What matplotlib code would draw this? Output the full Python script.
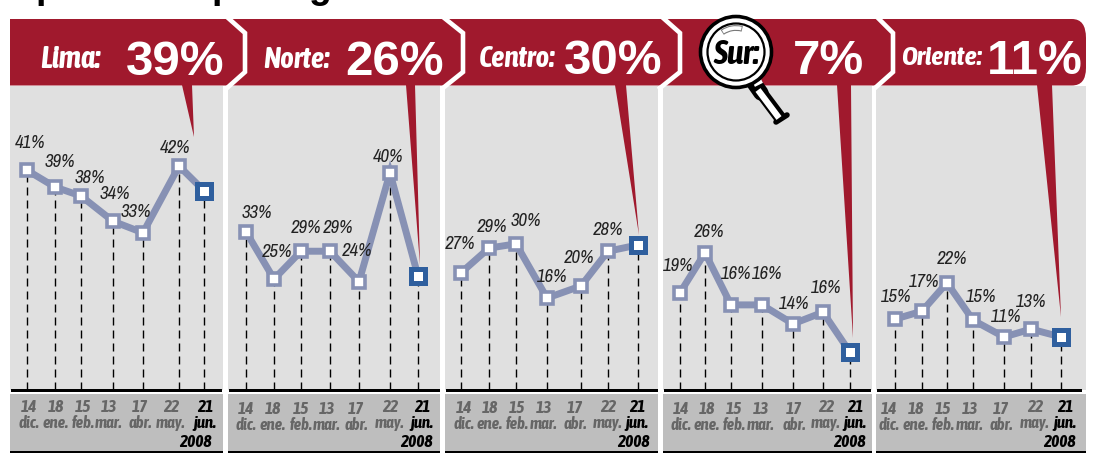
import matplotlib
matplotlib.use("Agg")
import matplotlib.pyplot as plt
from matplotlib.patches import Polygon, Rectangle, Circle, Arc, PathPatch
from matplotlib.path import Path

# ---- data ----
regions = ["Lima:", "Norte:", "Centro:", "Sur:", "Oriente:"]
current = [39, 26, 30, 7, 11]
days = ["14", "18", "15", "13", "17", "22", "21"]
months = ["dic.", "ene.", "feb.", "mar.", "abr.", "may.", "jun."]
year = "2008"

# printed percentages (last point is shown in the header only)
lima_printed = [41, 39, 38, 34, 33, 42]
norte_printed = [33, 25, 29, 29, 24, 40]
centro_printed = [27, 29, 30, 16, 20, 28]
sur_printed = [19, 26, 16, 16, 14, 16]
oriente_printed = [15, 17, 22, 15, 11, 13]

# drawn heights on a common percent axis
lima_levels = [41.4, 38.2, 36.5, 31.7, 29.5, 42.2, 37.5]
norte_levels = [29.7, 20.7, 26.0, 26.0, 20.2, 40.9, 21.3]
centro_levels = [21.9, 26.6, 27.4, 17.1, 19.4, 26.0, 27.2]
sur_levels = [18.1, 25.7, 15.8, 15.8, 12.2, 14.4, 6.8]
oriente_levels = [13.1, 14.6, 20.0, 12.9, 9.7, 11.2, 9.7]

printed = [lima_printed, norte_printed, centro_printed, sur_printed, oriente_printed]
levels = [lima_levels, norte_levels, centro_levels, sur_levels, oriente_levels]

# ---- layout (pixels) ----
W, H = 1103, 453
RED = "#A0192D"
BG = "#E0E0E0"
LOW = "#BEBEBE"
LINE = "#8791B4"
BLUE = "#2F5F9E"
LABEL_FONT = ["Archivo Narrow", "Liberation Sans"]
NARROW = ["Asap Condensed", "Liberation Sans"]
WIDE = ["Liberation Sans", "DejaVu Sans"]

panel_x = [(10, 222.5), (228, 440), (445, 657.5), (663, 871.5), (876, 1086)]
base_end = [222, 439.5, 657.5, 871, 1082]
point_x = [
    [27, 55, 81, 113, 143, 179, 204],
    [246, 274, 301, 330, 359, 390, 418],
    [461, 489, 516, 547, 581, 608, 638],
    [680, 705, 731, 762, 793, 823, 850],
    [895, 922, 947, 973, 1004, 1031, 1061],
]
label_xy = [
    [(30, 143), (60, 162), (90, 178), (115, 194), (136, 212), (175, 148)],
    [(257, 213), (277, 252), (306, 228), (338, 228), (357, 251), (388, 157)],
    [(460, 244), (492, 227), (526, 221), (552, 277), (579, 258), (608, 230)],
    [(678, 266), (709, 232), (736, 274), (767, 274), (794, 304), (826, 288)],
    [(896, 297), (924, 282), (952, 259), (981, 297), (1006, 317), (1031, 302)],
]
tick_x = [
    [29, 56, 83, 109, 140, 171, 205],
    [246, 273, 301, 327, 356, 390, 422],
    [464, 490, 517, 544, 575, 608, 637],
    [681, 707, 734, 761, 794, 826, 855],
    [889, 916, 943, 970, 1001, 1035, 1065],
]
tick_dy = [
    [0, 0, 0, 0, 0, 0, 0],
    [2, 2, 2, 2, 2, 0, 0],
    [1, 1, 1, 1, 1, 0, 0],
    [2, 2, 2, 2, 2, 0, 0],
    [2, 2, 2, 2, 2, 0, 0],
]
year_right = [212, 433, 650, 866, 1076]
name_xy = [(40, 68), (263, 68), (479, 67), None, (901, 65)]
pct_xy = [(126, 75), (345, 75), (564, 74), (793, 74), (987, 74)]
name_size = [22, 21, 21, None, 19.5]
pointers = [
    [(182, 85), (192, 85), (194, 137)],
    [(406, 85), (415, 85), (420, 265)],
    [(615, 85), (626, 85), (639, 235)],
    [(837, 85), (851, 85), (853, 338)],
    [(1037, 85), (1052, 85), (1061, 317)],
]
chevrons = [
    [(227, 17), (245, 33), (245, 72), (227, 88)],
    [(443, 17), (463, 33), (463, 72), (443, 88)],
    [(662, 17), (680, 33), (680, 72), (660, 88)],
    [(877, 17), (893, 33), (893, 72), (875, 88)],
]

PLOT_TOP, PLOT_BOTTOM = 86, 390
YMIN, YMAX = -0.38, 57.41

fig = plt.figure(figsize=(W / 100, H / 100), dpi=100, facecolor="white")

for i, (x0, x1) in enumerate(panel_x):
    ax = fig.add_axes([x0 / W, 1 - PLOT_BOTTOM / H, (x1 - x0) / W, (PLOT_BOTTOM - PLOT_TOP) / H])
    ax.set_facecolor(BG)
    ax.set_xlim(x0, x1)
    ax.set_ylim(YMIN, YMAX)
    ax.set_xticks([])
    ax.set_yticks([])
    for s in ax.spines.values():
        s.set_visible(False)
    xs, ys = point_x[i], levels[i]
    ax.vlines(xs, YMIN, ys, colors="black", linewidth=1.0, linestyles=[(0, (5.76, 3.6))], zorder=1)
    ax.plot(xs, ys, color=LINE, lw=5.0, solid_joinstyle="miter", zorder=2)
    ax.plot(xs[:-1], ys[:-1], ls="none", marker="s", ms=8, mew=2.6, mfc="white", mec=LINE, zorder=3)
    ax.plot(xs[-1:], ys[-1:], ls="none", marker="s", ms=9.4, mew=3.6, mfc="white", mec=BLUE, zorder=4)

ov = fig.add_axes([0, 0, 1, 1], zorder=10)
ov.set_xlim(0, W)
ov.set_ylim(H, 0)
ov.axis("off")
ov.patch.set_alpha(0)

# header band with rounded right end
verts = [(10, 19), (1072, 19), (1086, 19), (1086, 38), (1086, 68), (1086, 85.5), (1072, 85.5), (10, 85.5), (10, 19)]
codes = [Path.MOVETO, Path.LINETO, Path.CURVE3, Path.CURVE3, Path.LINETO, Path.CURVE3, Path.CURVE3, Path.LINETO, Path.CLOSEPOLY]
ov.add_patch(PathPatch(Path(verts, codes), fc=RED, ec="none", zorder=1))
for c in chevrons:
    ov.plot(*zip(*c), color="white", lw=3.3, solid_joinstyle="miter", zorder=2)
for p in pointers:
    ov.add_patch(Polygon(p, closed=True, fc=RED, ec="none", zorder=2))

for i, (x0, x1) in enumerate(panel_x):
    ov.add_patch(Rectangle((x0, 394), x1 - x0, 57, fc=LOW, ec="none", zorder=1))
    ov.add_patch(Rectangle((x0 + 0.5, 389), base_end[i] - x0 - 0.5, 3.2, fc="black", ec="none", zorder=3))
    ov.add_patch(Rectangle((x0, 451), x1 - x0, 2, fc="black", ec="none", zorder=3))
    for (lx, ly), v in zip(label_xy[i], printed[i]):
        ov.text(lx, ly, f"{v}%", family=LABEL_FONT, style="italic", fontsize=13.5, color="#222222",
                ha="center", va="center", zorder=5)
    for j, (d, m) in enumerate(zip(days, months)):
        last = j == len(days) - 1
        col = "black" if last else "#666666"
        ov.text(tick_x[i][j], 407 + tick_dy[i][j], d, family=NARROW, style="italic", weight="bold",
                fontsize=12.5, color=col, ha="center", va="center", zorder=5)
        ov.text(tick_x[i][j], 423 + tick_dy[i][j], m, family=NARROW, style="italic", weight="bold",
                fontsize=12, color=col, ha="center", va="center", zorder=5)
    ov.text(year_right[i], 442, year, family=NARROW, style="italic", weight="bold", fontsize=12.5,
            color="black", ha="right", va="center", zorder=5)
    ov.text(pct_xy[i][0], pct_xy[i][1], f"{current[i]}%", family=WIDE, weight="bold", fontsize=35.5,
            color="white", ha="left", va="baseline", zorder=5)
    if name_xy[i] is not None:
        ov.text(name_xy[i][0], name_xy[i][1], regions[i], family=NARROW, style="italic", weight="bold",
                fontsize=name_size[i], color="white", ha="left", va="baseline", zorder=5)

# magnifier
ov.plot([757, 781], [87, 119], color="black", lw=9, solid_capstyle="butt", zorder=6)
ov.plot([754, 761], [83, 93], color="black", lw=11, solid_capstyle="round", zorder=6)
ov.plot([776, 787], [122, 115], color="black", lw=4, solid_capstyle="round", zorder=7)
ov.plot([758, 779], [90, 118], color="white", lw=4.5, solid_capstyle="butt", zorder=7)
ov.plot([754, 762], [85, 81], color="white", lw=3, solid_capstyle="butt", zorder=7)
ov.add_patch(Circle((736, 52), 35.5, fc="white", ec="black", lw=2.6, zorder=8))
ov.add_patch(Circle((736, 52), 28.5, fc="white", ec="black", lw=1.6, zorder=8))
ov.add_patch(Arc((736, 52), 48, 48, theta1=-125, theta2=-75, ec="#777777", lw=4.2, zorder=9))
ov.add_patch(Arc((736, 52), 48, 48, theta1=-123, theta2=-77, ec="white", lw=2.6, zorder=9))
ov.text(736, 55, regions[3], family=NARROW, style="italic", weight="bold", fontsize=24, color="black",
        ha="center", va="center", zorder=10)

# descenders of the title cropped by the top edge
for ch, x in [("p", 47), ("p", 223), ("g", 320)]:
    ov.text(x, -2, ch, family=WIDE, weight="bold", fontsize=27, color="black", ha="center",
            va="baseline", clip_on=False, zorder=10)

fig.savefig("out.png", dpi=100)
